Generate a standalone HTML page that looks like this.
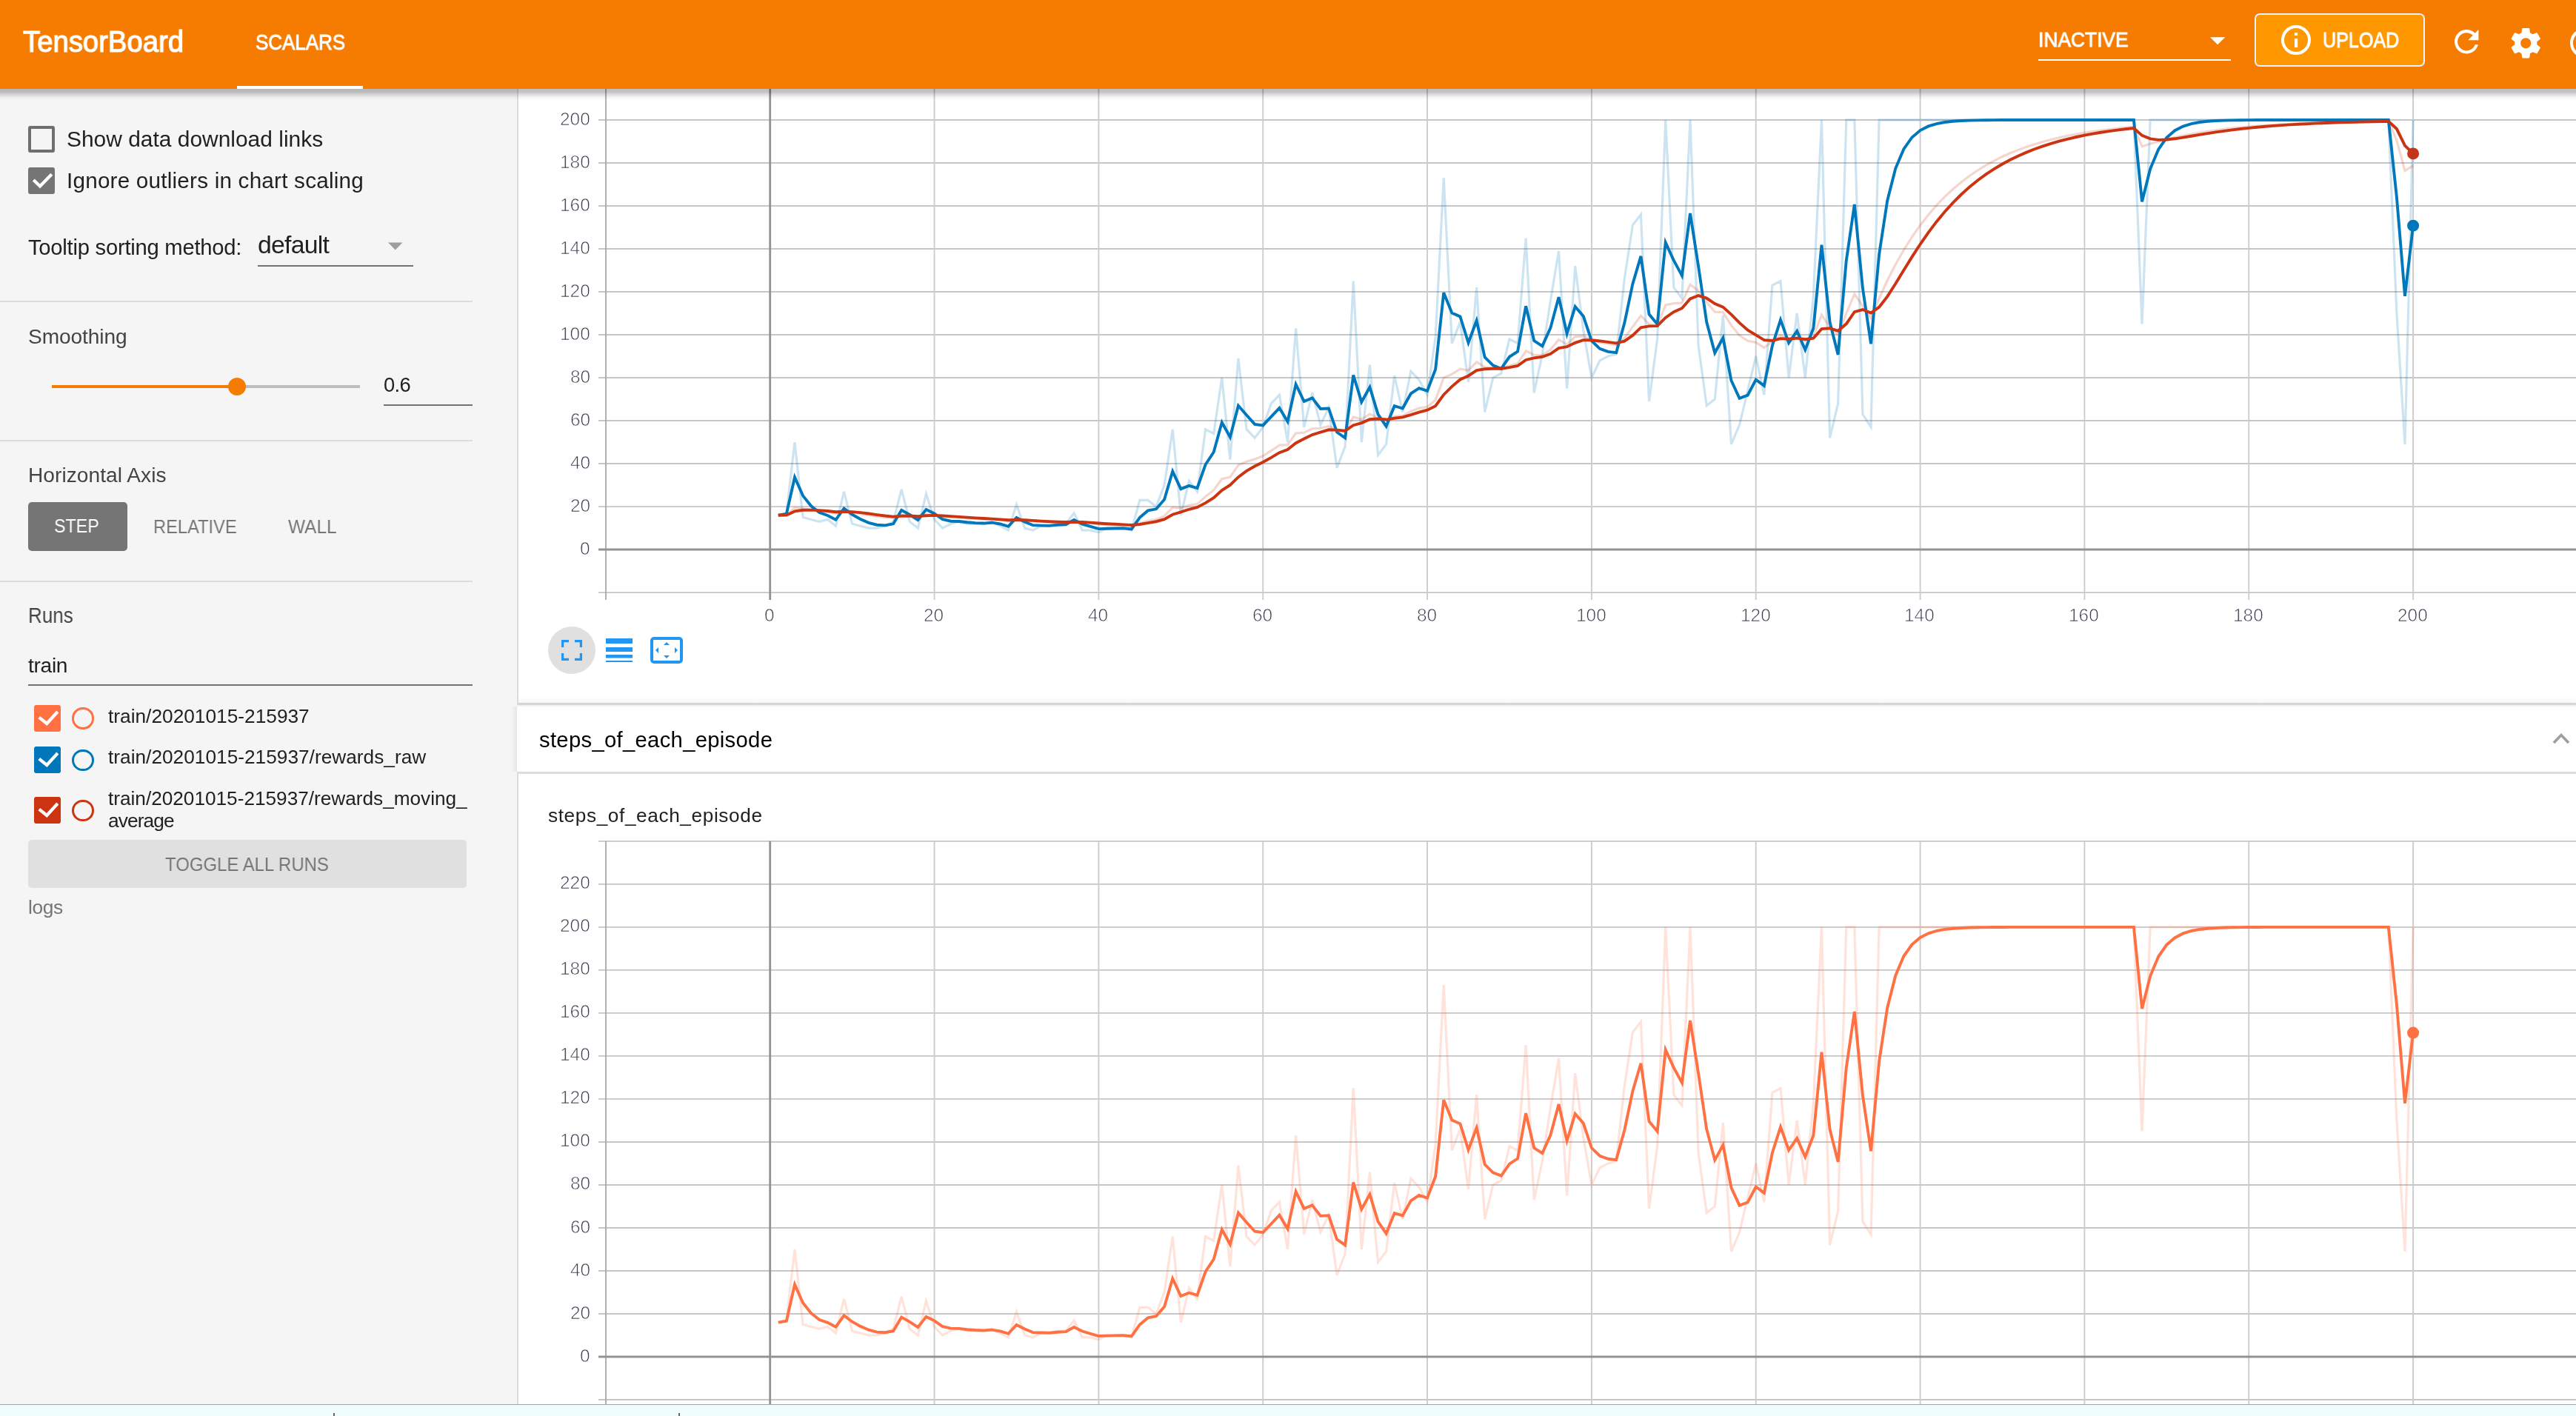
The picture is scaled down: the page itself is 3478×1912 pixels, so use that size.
<!DOCTYPE html><html><head><meta charset="utf-8"><style>
*{box-sizing:border-box;margin:0;padding:0}
html,body{width:3478px;height:1912px;overflow:hidden;background:#fff;font-family:"Liberation Sans",sans-serif}
.t{position:absolute;white-space:nowrap;will-change:transform}
.a{position:absolute}
</style></head><body>
<div class="a" style="left:0;top:0;width:698px;height:1897px;background:#f5f5f5"></div>
<div class="a" style="left:698px;top:0;width:2780px;height:1897px;background:#fff"></div>
<svg class="a" style="left:0;top:0" width="3478" height="1912" viewBox="0 0 3478 1912">
<defs><clipPath id="c1"><rect x="700" y="0" width="2778" height="950"/></clipPath><clipPath id="c2"><rect x="700" y="1044" width="2778" height="853"/></clipPath></defs>
<g clip-path="url(#c1)"><line x1="808" y1="800.11" x2="3478" y2="800.11" stroke="#c6c6c6" stroke-width="1.9"/>
<line x1="808" y1="684.09" x2="3478" y2="684.09" stroke="#c6c6c6" stroke-width="1.9"/>
<line x1="808" y1="626.07" x2="3478" y2="626.07" stroke="#c6c6c6" stroke-width="1.9"/>
<line x1="808" y1="568.06" x2="3478" y2="568.06" stroke="#c6c6c6" stroke-width="1.9"/>
<line x1="808" y1="510.04" x2="3478" y2="510.04" stroke="#c6c6c6" stroke-width="1.9"/>
<line x1="808" y1="452.03" x2="3478" y2="452.03" stroke="#c6c6c6" stroke-width="1.9"/>
<line x1="808" y1="394.02" x2="3478" y2="394.02" stroke="#c6c6c6" stroke-width="1.9"/>
<line x1="808" y1="336.00" x2="3478" y2="336.00" stroke="#c6c6c6" stroke-width="1.9"/>
<line x1="808" y1="277.99" x2="3478" y2="277.99" stroke="#c6c6c6" stroke-width="1.9"/>
<line x1="808" y1="219.97" x2="3478" y2="219.97" stroke="#c6c6c6" stroke-width="1.9"/>
<line x1="808" y1="161.96" x2="3478" y2="161.96" stroke="#c6c6c6" stroke-width="1.9"/>
<line x1="808" y1="103.95" x2="3478" y2="103.95" stroke="#c6c6c6" stroke-width="1.9"/>
<line x1="808" y1="45.93" x2="3478" y2="45.93" stroke="#c6c6c6" stroke-width="1.9"/>
<line x1="1261.54" y1="45.93" x2="1261.54" y2="810.11" stroke="#cccccc" stroke-width="1.9"/>
<line x1="1483.38" y1="45.93" x2="1483.38" y2="810.11" stroke="#cccccc" stroke-width="1.9"/>
<line x1="1705.22" y1="45.93" x2="1705.22" y2="810.11" stroke="#cccccc" stroke-width="1.9"/>
<line x1="1927.06" y1="45.93" x2="1927.06" y2="810.11" stroke="#cccccc" stroke-width="1.9"/>
<line x1="2148.90" y1="45.93" x2="2148.90" y2="810.11" stroke="#cccccc" stroke-width="1.9"/>
<line x1="2370.74" y1="45.93" x2="2370.74" y2="810.11" stroke="#cccccc" stroke-width="1.9"/>
<line x1="2592.58" y1="45.93" x2="2592.58" y2="810.11" stroke="#cccccc" stroke-width="1.9"/>
<line x1="2814.42" y1="45.93" x2="2814.42" y2="810.11" stroke="#cccccc" stroke-width="1.9"/>
<line x1="3036.26" y1="45.93" x2="3036.26" y2="810.11" stroke="#cccccc" stroke-width="1.9"/>
<line x1="3258.10" y1="45.93" x2="3258.10" y2="810.11" stroke="#cccccc" stroke-width="1.9"/>
<line x1="818" y1="45.93" x2="818" y2="810.11" stroke="#a8a8a8" stroke-width="1.8"/>
<line x1="808" y1="742.10" x2="3478" y2="742.10" stroke="#939393" stroke-width="3"/>
<line x1="1039.7" y1="45.93" x2="1039.7" y2="810.11" stroke="#939393" stroke-width="2.8"/>
<circle cx="3258.10" cy="207.43" r="8" fill="#cc3311"/><circle cx="3258.10" cy="304.67" r="8" fill="#0077bb"/>
<path d="M1050.79,695.69 L1061.88,692.79 L1072.98,597.07 L1084.07,698.59 L1095.16,701.49 L1106.25,704.39 L1117.34,701.49 L1128.44,710.19 L1139.53,663.78 L1150.62,707.29 L1161.71,710.19 L1172.80,713.09 L1183.90,713.09 L1194.99,710.19 L1206.08,704.39 L1217.17,660.88 L1228.26,704.39 L1239.36,713.09 L1250.45,666.68 L1261.54,701.49 L1272.63,713.09 L1283.72,707.29 L1294.82,704.39 L1305.91,707.29 L1317.00,707.29 L1328.09,707.29 L1339.18,704.39 L1350.28,710.19 L1361.37,715.99 L1372.46,681.19 L1383.55,713.09 L1394.64,715.99 L1405.74,710.19 L1416.83,710.19 L1427.92,707.29 L1439.01,707.29 L1450.10,692.79 L1461.20,715.99 L1472.29,715.99 L1483.38,718.89 L1494.47,713.09 L1505.56,713.09 L1516.66,713.09 L1527.75,715.99 L1538.84,675.38 L1549.93,675.38 L1561.02,684.09 L1572.12,655.08 L1583.21,579.66 L1594.30,695.69 L1605.39,649.28 L1616.48,663.78 L1627.58,579.66 L1638.67,585.46 L1649.76,510.04 L1660.85,620.27 L1671.94,483.94 L1683.04,579.66 L1694.13,591.26 L1705.22,576.76 L1716.31,544.85 L1727.40,533.25 L1738.50,597.07 L1749.59,443.33 L1760.68,576.76 L1771.77,530.35 L1782.86,573.86 L1793.96,550.65 L1805.05,631.87 L1816.14,602.87 L1827.23,379.51 L1838.32,597.07 L1849.42,492.64 L1860.51,614.47 L1871.60,599.97 L1882.69,507.14 L1893.78,556.46 L1904.88,501.34 L1915.97,512.94 L1927.06,533.25 L1938.15,454.93 L1949.24,240.28 L1960.34,463.63 L1971.43,434.63 L1982.52,515.85 L1993.61,388.21 L2004.70,556.46 L2015.80,510.04 L2026.89,504.24 L2037.98,457.83 L2049.07,463.63 L2060.16,321.50 L2071.26,530.35 L2082.35,478.14 L2093.44,405.62 L2104.53,338.90 L2115.62,524.55 L2126.72,359.21 L2137.81,446.23 L2148.90,510.04 L2159.99,486.84 L2171.08,481.04 L2182.18,478.14 L2193.27,376.61 L2204.36,304.09 L2215.45,289.59 L2226.54,541.95 L2237.64,457.83 L2248.73,161.96 L2259.82,388.21 L2270.91,402.72 L2282.00,161.96 L2293.10,466.53 L2304.19,547.75 L2315.28,539.05 L2326.37,425.92 L2337.46,599.97 L2348.56,573.86 L2359.65,527.45 L2370.74,481.04 L2381.83,533.25 L2392.92,385.31 L2404.02,379.51 L2415.11,510.04 L2426.20,423.02 L2437.29,510.04 L2448.38,399.82 L2459.48,161.96 L2470.57,591.26 L2481.66,544.85 L2492.75,161.96 L2503.84,161.96 L2514.94,559.36 L2526.03,576.76 L2537.12,161.96 L2548.21,161.96 L2559.30,161.96 L2570.40,161.96 L2581.49,161.96 L2592.58,161.96 L2603.67,161.96 L2614.76,161.96 L2625.86,161.96 L2636.95,161.96 L2648.04,161.96 L2659.13,161.96 L2670.22,161.96 L2681.32,161.96 L2692.41,161.96 L2703.50,161.96 L2714.59,161.96 L2725.68,161.96 L2736.78,161.96 L2747.87,161.96 L2758.96,161.96 L2770.05,161.96 L2781.14,161.96 L2792.24,161.96 L2803.33,161.96 L2814.42,161.96 L2825.51,161.96 L2836.60,161.96 L2847.70,161.96 L2858.79,161.96 L2869.88,161.96 L2880.97,161.96 L2892.06,437.53 L2903.16,161.96 L2914.25,161.96 L2925.34,161.96 L2936.43,161.96 L2947.52,161.96 L2958.62,161.96 L2969.71,161.96 L2980.80,161.96 L2991.89,161.96 L3002.98,161.96 L3014.08,161.96 L3025.17,161.96 L3036.26,161.96 L3047.35,161.96 L3058.44,161.96 L3069.54,161.96 L3080.63,161.96 L3091.72,161.96 L3102.81,161.96 L3113.90,161.96 L3125.00,161.96 L3136.09,161.96 L3147.18,161.96 L3158.27,161.96 L3169.36,161.96 L3180.46,161.96 L3191.55,161.96 L3202.64,161.96 L3213.73,161.96 L3224.82,161.96 L3235.92,423.02 L3247.01,599.97 L3258.10,161.96" fill="none" stroke="#0077bb" stroke-width="3.2" stroke-opacity="0.2" stroke-linejoin="miter"/>
<path d="M1050.79,695.69 L1061.88,695.40 L1072.98,685.57 L1084.07,686.87 L1095.16,688.33 L1106.25,689.94 L1117.34,691.09 L1128.44,693.00 L1139.53,690.08 L1150.62,691.80 L1161.71,693.64 L1172.80,695.59 L1183.90,697.34 L1194.99,698.62 L1206.08,699.20 L1217.17,695.37 L1228.26,696.27 L1239.36,697.95 L1250.45,694.82 L1261.54,695.49 L1272.63,697.25 L1283.72,698.26 L1294.82,698.87 L1305.91,699.71 L1317.00,700.47 L1328.09,701.15 L1339.18,701.48 L1350.28,702.35 L1361.37,703.71 L1372.46,701.46 L1383.55,702.62 L1394.64,703.96 L1405.74,704.58 L1416.83,705.14 L1427.92,705.36 L1439.01,705.55 L1450.10,704.28 L1461.20,705.45 L1472.29,706.50 L1483.38,707.74 L1494.47,708.28 L1505.56,708.76 L1516.66,709.19 L1527.75,709.87 L1538.84,706.42 L1549.93,703.32 L1561.02,701.40 L1572.12,696.76 L1583.21,685.05 L1594.30,686.12 L1605.39,682.43 L1616.48,680.57 L1627.58,670.48 L1638.67,661.98 L1649.76,646.78 L1660.85,644.13 L1671.94,628.11 L1683.04,623.27 L1694.13,620.07 L1705.22,615.74 L1716.31,608.65 L1727.40,601.11 L1738.50,600.70 L1749.59,584.97 L1760.68,584.15 L1771.77,578.77 L1782.86,578.28 L1793.96,575.51 L1805.05,581.15 L1816.14,583.32 L1827.23,562.94 L1838.32,566.35 L1849.42,558.98 L1860.51,564.53 L1871.60,568.07 L1882.69,561.98 L1893.78,561.43 L1904.88,555.42 L1915.97,551.17 L1927.06,549.38 L1938.15,539.93 L1949.24,509.97 L1960.34,505.34 L1971.43,498.26 L1982.52,500.02 L1993.61,488.84 L2004.70,495.60 L2015.80,497.05 L2026.89,497.77 L2037.98,493.77 L2049.07,490.76 L2060.16,473.83 L2071.26,479.48 L2082.35,479.35 L2093.44,471.98 L2104.53,458.67 L2115.62,465.26 L2126.72,454.65 L2137.81,453.81 L2148.90,459.43 L2159.99,462.17 L2171.08,464.06 L2182.18,465.47 L2193.27,456.58 L2204.36,441.33 L2215.45,426.16 L2226.54,437.74 L2237.64,439.75 L2248.73,411.97 L2259.82,409.59 L2270.91,408.91 L2282.00,384.21 L2293.10,392.44 L2304.19,407.97 L2315.28,421.08 L2326.37,421.57 L2337.46,439.41 L2348.56,452.85 L2359.65,460.31 L2370.74,462.38 L2381.83,469.47 L2392.92,461.05 L2404.02,452.90 L2415.11,458.61 L2426.20,455.06 L2437.29,460.55 L2448.38,454.48 L2459.48,425.23 L2470.57,441.83 L2481.66,452.13 L2492.75,423.12 L2503.84,397.00 L2514.94,413.24 L2526.03,429.59 L2537.12,402.83 L2548.21,378.74 L2559.30,357.06 L2570.40,337.55 L2581.49,319.99 L2592.58,304.19 L2603.67,289.97 L2614.76,277.17 L2625.86,265.64 L2636.95,255.28 L2648.04,245.94 L2659.13,237.55 L2670.22,229.99 L2681.32,223.18 L2692.41,217.06 L2703.50,211.55 L2714.59,206.59 L2725.68,202.13 L2736.78,198.11 L2747.87,194.50 L2758.96,191.24 L2770.05,188.32 L2781.14,185.68 L2792.24,183.31 L2803.33,181.17 L2814.42,179.25 L2825.51,177.52 L2836.60,175.97 L2847.70,174.57 L2858.79,173.31 L2869.88,172.17 L2880.97,171.15 L2892.06,197.79 L2903.16,194.20 L2914.25,190.98 L2925.34,188.08 L2936.43,185.47 L2947.52,183.12 L2958.62,181.00 L2969.71,179.10 L2980.80,177.38 L2991.89,175.84 L3002.98,174.45 L3014.08,173.20 L3025.17,172.08 L3036.26,171.07 L3047.35,170.16 L3058.44,169.34 L3069.54,168.60 L3080.63,167.93 L3091.72,167.34 L3102.81,166.80 L3113.90,166.32 L3125.00,165.88 L3136.09,165.49 L3147.18,165.14 L3158.27,164.82 L3169.36,164.53 L3180.46,164.27 L3191.55,164.04 L3202.64,163.84 L3213.73,163.65 L3224.82,163.48 L3235.92,189.43 L3247.01,230.49 L3258.10,223.63" fill="none" stroke="#cc3311" stroke-width="3.2" stroke-opacity="0.2" stroke-linejoin="miter"/>
<path d="M1050.79,695.69 L1061.88,693.88 L1072.98,644.48 L1084.07,669.35 L1095.16,683.29 L1106.25,692.14 L1117.34,695.99 L1128.44,701.77 L1139.53,686.42 L1150.62,694.82 L1161.71,700.99 L1172.80,705.84 L1183.90,708.75 L1194.99,709.33 L1206.08,707.35 L1217.17,688.76 L1228.26,695.01 L1239.36,702.24 L1250.45,688.02 L1261.54,693.41 L1272.63,701.28 L1283.72,703.69 L1294.82,703.97 L1305.91,705.30 L1317.00,706.10 L1328.09,706.57 L1339.18,705.70 L1350.28,707.50 L1361.37,710.90 L1372.46,699.01 L1383.55,704.64 L1394.64,709.18 L1405.74,709.59 L1416.83,709.83 L1427.92,708.81 L1439.01,708.21 L1450.10,702.04 L1461.20,707.62 L1472.29,710.97 L1483.38,714.14 L1494.47,713.72 L1505.56,713.47 L1516.66,713.32 L1527.75,714.39 L1538.84,698.79 L1549.93,689.43 L1561.02,687.29 L1572.12,674.41 L1583.21,636.51 L1594.30,660.18 L1605.39,655.82 L1616.48,659.00 L1627.58,627.27 L1638.67,610.54 L1649.76,570.34 L1660.85,590.31 L1671.94,547.76 L1683.04,560.52 L1694.13,572.82 L1705.22,574.40 L1716.31,562.58 L1727.40,550.85 L1738.50,569.33 L1749.59,518.93 L1760.68,542.06 L1771.77,537.38 L1782.86,551.97 L1793.96,551.44 L1805.05,583.62 L1816.14,591.32 L1827.23,506.59 L1838.32,542.78 L1849.42,522.73 L1860.51,559.42 L1871.60,575.64 L1882.69,548.24 L1893.78,551.53 L1904.88,531.45 L1915.97,524.05 L1927.06,527.73 L1938.15,498.61 L1949.24,395.28 L1960.34,422.62 L1971.43,427.42 L1982.52,462.79 L1993.61,432.96 L2004.70,482.36 L2015.80,493.43 L2026.89,497.76 L2037.98,481.79 L2049.07,474.53 L2060.16,413.31 L2071.26,460.13 L2082.35,467.33 L2093.44,442.65 L2104.53,401.15 L2115.62,450.51 L2126.72,413.99 L2137.81,426.88 L2148.90,460.15 L2159.99,470.82 L2171.08,474.91 L2182.18,476.20 L2193.27,436.36 L2204.36,383.46 L2215.45,345.91 L2226.54,424.33 L2237.64,437.73 L2248.73,327.42 L2259.82,351.74 L2270.91,372.13 L2282.00,288.06 L2293.10,359.45 L2304.19,434.77 L2315.28,476.48 L2326.37,456.26 L2337.46,513.74 L2348.56,537.79 L2359.65,533.65 L2370.74,512.61 L2381.83,520.86 L2392.92,466.64 L2404.02,431.79 L2415.11,463.09 L2426.20,447.06 L2437.29,472.26 L2448.38,443.28 L2459.48,330.75 L2470.57,434.96 L2481.66,478.92 L2492.75,352.13 L2503.84,276.06 L2514.94,389.38 L2526.03,464.33 L2537.12,343.38 L2548.21,270.81 L2559.30,227.27 L2570.40,201.15 L2581.49,185.47 L2592.58,176.07 L2603.67,170.42 L2614.76,167.04 L2625.86,165.01 L2636.95,163.79 L2648.04,163.06 L2659.13,162.62 L2670.22,162.35 L2681.32,162.20 L2692.41,162.10 L2703.50,162.05 L2714.59,162.01 L2725.68,161.99 L2736.78,161.98 L2747.87,161.97 L2758.96,161.97 L2770.05,161.96 L2781.14,161.96 L2792.24,161.96 L2803.33,161.96 L2814.42,161.96 L2825.51,161.96 L2836.60,161.96 L2847.70,161.96 L2858.79,161.96 L2869.88,161.96 L2880.97,161.96 L2892.06,272.19 L2903.16,228.10 L2914.25,201.64 L2925.34,185.77 L2936.43,176.25 L2947.52,170.53 L2958.62,167.10 L2969.71,165.05 L2980.80,163.81 L2991.89,163.07 L3002.98,162.63 L3014.08,162.36 L3025.17,162.20 L3036.26,162.10 L3047.35,162.05 L3058.44,162.01 L3069.54,161.99 L3080.63,161.98 L3091.72,161.97 L3102.81,161.97 L3113.90,161.96 L3125.00,161.96 L3136.09,161.96 L3147.18,161.96 L3158.27,161.96 L3169.36,161.96 L3180.46,161.96 L3191.55,161.96 L3202.64,161.96 L3213.73,161.96 L3224.82,161.96 L3235.92,266.39 L3247.01,399.82 L3258.10,304.67" fill="none" stroke="#0077bb" stroke-width="3.9" stroke-opacity="1" stroke-linejoin="miter"/>
<path d="M1050.79,695.69 L1061.88,695.51 L1072.98,690.43 L1084.07,688.80 L1095.16,688.59 L1106.25,689.16 L1117.34,689.95 L1128.44,691.19 L1139.53,690.74 L1150.62,691.17 L1161.71,692.16 L1172.80,693.53 L1183.90,695.06 L1194.99,696.48 L1206.08,697.57 L1217.17,696.69 L1228.26,696.52 L1239.36,697.09 L1250.45,696.19 L1261.54,695.91 L1272.63,696.45 L1283.72,697.17 L1294.82,697.85 L1305.91,698.59 L1317.00,699.34 L1328.09,700.07 L1339.18,700.63 L1350.28,701.32 L1361.37,702.27 L1372.46,701.95 L1383.55,702.22 L1394.64,702.91 L1405.74,703.58 L1416.83,704.21 L1427.92,704.67 L1439.01,705.02 L1450.10,704.72 L1461.20,705.01 L1472.29,705.61 L1483.38,706.46 L1494.47,707.19 L1505.56,707.82 L1516.66,708.37 L1527.75,708.97 L1538.84,707.95 L1549.93,706.10 L1561.02,704.22 L1572.12,701.24 L1583.21,694.76 L1594.30,691.30 L1605.39,687.76 L1616.48,684.88 L1627.58,679.12 L1638.67,672.26 L1649.76,662.07 L1660.85,654.89 L1671.94,644.18 L1683.04,635.82 L1694.13,629.52 L1705.22,624.00 L1716.31,617.86 L1727.40,611.16 L1738.50,606.98 L1749.59,598.17 L1760.68,592.56 L1771.77,587.04 L1782.86,583.54 L1793.96,580.33 L1805.05,580.66 L1816.14,581.72 L1827.23,574.21 L1838.32,571.07 L1849.42,566.23 L1860.51,565.55 L1871.60,566.56 L1882.69,564.73 L1893.78,563.41 L1904.88,560.21 L1915.97,556.60 L1927.06,553.71 L1938.15,548.20 L1949.24,532.91 L1960.34,521.88 L1971.43,512.43 L1982.52,507.47 L1993.61,500.02 L2004.70,498.25 L2015.80,497.77 L2026.89,497.77 L2037.98,496.17 L2049.07,494.01 L2060.16,485.94 L2071.26,483.36 L2082.35,481.75 L2093.44,477.84 L2104.53,470.17 L2115.62,468.21 L2126.72,462.79 L2137.81,459.19 L2148.90,459.29 L2159.99,460.44 L2171.08,461.89 L2182.18,463.32 L2193.27,460.63 L2204.36,452.91 L2215.45,442.21 L2226.54,440.42 L2237.64,440.15 L2248.73,428.88 L2259.82,421.16 L2270.91,416.26 L2282.00,403.44 L2293.10,399.04 L2304.19,402.62 L2315.28,410.00 L2326.37,414.63 L2337.46,424.54 L2348.56,435.86 L2359.65,445.64 L2370.74,452.34 L2381.83,459.19 L2392.92,459.94 L2404.02,457.12 L2415.11,457.72 L2426.20,456.65 L2437.29,458.21 L2448.38,456.72 L2459.48,444.12 L2470.57,443.21 L2481.66,446.78 L2492.75,437.31 L2503.84,421.19 L2514.94,418.01 L2526.03,422.64 L2537.12,414.71 L2548.21,400.32 L2559.30,383.02 L2570.40,364.83 L2581.49,346.90 L2592.58,329.81 L2603.67,313.87 L2614.76,299.19 L2625.86,285.77 L2636.95,273.57 L2648.04,262.52 L2659.13,252.53 L2670.22,243.51 L2681.32,235.38 L2692.41,228.05 L2703.50,221.45 L2714.59,215.51 L2725.68,210.16 L2736.78,205.34 L2747.87,201.00 L2758.96,197.10 L2770.05,193.59 L2781.14,190.42 L2792.24,187.58 L2803.33,185.02 L2814.42,182.71 L2825.51,180.64 L2836.60,178.77 L2847.70,177.09 L2858.79,175.57 L2869.88,174.21 L2880.97,172.99 L2892.06,182.91 L2903.16,187.43 L2914.25,188.85 L2925.34,188.54 L2936.43,187.31 L2947.52,185.63 L2958.62,183.78 L2969.71,181.91 L2980.80,180.10 L2991.89,178.39 L3002.98,176.82 L3014.08,175.37 L3025.17,174.05 L3036.26,172.86 L3047.35,171.78 L3058.44,170.80 L3069.54,169.92 L3080.63,169.13 L3091.72,168.41 L3102.81,167.77 L3113.90,167.19 L3125.00,166.66 L3136.09,166.19 L3147.18,165.77 L3158.27,165.39 L3169.36,165.05 L3180.46,164.74 L3191.55,164.46 L3202.64,164.21 L3213.73,163.99 L3224.82,163.78 L3235.92,174.04 L3247.01,196.62 L3258.10,207.43" fill="none" stroke="#cc3311" stroke-width="3.9" stroke-opacity="1" stroke-linejoin="miter"/></g>
<g clip-path="url(#c2)"><line x1="808" y1="1890.01" x2="3478" y2="1890.01" stroke="#c6c6c6" stroke-width="1.9"/>
<line x1="808" y1="1773.99" x2="3478" y2="1773.99" stroke="#c6c6c6" stroke-width="1.9"/>
<line x1="808" y1="1715.97" x2="3478" y2="1715.97" stroke="#c6c6c6" stroke-width="1.9"/>
<line x1="808" y1="1657.96" x2="3478" y2="1657.96" stroke="#c6c6c6" stroke-width="1.9"/>
<line x1="808" y1="1599.94" x2="3478" y2="1599.94" stroke="#c6c6c6" stroke-width="1.9"/>
<line x1="808" y1="1541.93" x2="3478" y2="1541.93" stroke="#c6c6c6" stroke-width="1.9"/>
<line x1="808" y1="1483.92" x2="3478" y2="1483.92" stroke="#c6c6c6" stroke-width="1.9"/>
<line x1="808" y1="1425.90" x2="3478" y2="1425.90" stroke="#c6c6c6" stroke-width="1.9"/>
<line x1="808" y1="1367.89" x2="3478" y2="1367.89" stroke="#c6c6c6" stroke-width="1.9"/>
<line x1="808" y1="1309.87" x2="3478" y2="1309.87" stroke="#c6c6c6" stroke-width="1.9"/>
<line x1="808" y1="1251.86" x2="3478" y2="1251.86" stroke="#c6c6c6" stroke-width="1.9"/>
<line x1="808" y1="1193.85" x2="3478" y2="1193.85" stroke="#c6c6c6" stroke-width="1.9"/>
<line x1="808" y1="1135.83" x2="3478" y2="1135.83" stroke="#c6c6c6" stroke-width="1.9"/>
<line x1="1261.54" y1="1135.83" x2="1261.54" y2="1900.01" stroke="#cccccc" stroke-width="1.9"/>
<line x1="1483.38" y1="1135.83" x2="1483.38" y2="1900.01" stroke="#cccccc" stroke-width="1.9"/>
<line x1="1705.22" y1="1135.83" x2="1705.22" y2="1900.01" stroke="#cccccc" stroke-width="1.9"/>
<line x1="1927.06" y1="1135.83" x2="1927.06" y2="1900.01" stroke="#cccccc" stroke-width="1.9"/>
<line x1="2148.90" y1="1135.83" x2="2148.90" y2="1900.01" stroke="#cccccc" stroke-width="1.9"/>
<line x1="2370.74" y1="1135.83" x2="2370.74" y2="1900.01" stroke="#cccccc" stroke-width="1.9"/>
<line x1="2592.58" y1="1135.83" x2="2592.58" y2="1900.01" stroke="#cccccc" stroke-width="1.9"/>
<line x1="2814.42" y1="1135.83" x2="2814.42" y2="1900.01" stroke="#cccccc" stroke-width="1.9"/>
<line x1="3036.26" y1="1135.83" x2="3036.26" y2="1900.01" stroke="#cccccc" stroke-width="1.9"/>
<line x1="3258.10" y1="1135.83" x2="3258.10" y2="1900.01" stroke="#cccccc" stroke-width="1.9"/>
<line x1="818" y1="1135.83" x2="818" y2="1900.01" stroke="#a8a8a8" stroke-width="1.8"/>
<line x1="808" y1="1832.00" x2="3478" y2="1832.00" stroke="#939393" stroke-width="3"/>
<line x1="1039.7" y1="1135.83" x2="1039.7" y2="1900.01" stroke="#939393" stroke-width="2.8"/>
<circle cx="3258.10" cy="1394.57" r="8" fill="#ff7043"/>
<path d="M1050.79,1785.59 L1061.88,1782.69 L1072.98,1686.96 L1084.07,1788.49 L1095.16,1791.39 L1106.25,1794.29 L1117.34,1791.39 L1128.44,1800.09 L1139.53,1753.68 L1150.62,1797.19 L1161.71,1800.09 L1172.80,1802.99 L1183.90,1802.99 L1194.99,1800.09 L1206.08,1794.29 L1217.17,1750.78 L1228.26,1794.29 L1239.36,1802.99 L1250.45,1756.58 L1261.54,1791.39 L1272.63,1802.99 L1283.72,1797.19 L1294.82,1794.29 L1305.91,1797.19 L1317.00,1797.19 L1328.09,1797.19 L1339.18,1794.29 L1350.28,1800.09 L1361.37,1805.89 L1372.46,1771.09 L1383.55,1802.99 L1394.64,1805.89 L1405.74,1800.09 L1416.83,1800.09 L1427.92,1797.19 L1439.01,1797.19 L1450.10,1782.69 L1461.20,1805.89 L1472.29,1805.89 L1483.38,1808.79 L1494.47,1802.99 L1505.56,1802.99 L1516.66,1802.99 L1527.75,1805.89 L1538.84,1765.28 L1549.93,1765.28 L1561.02,1773.99 L1572.12,1744.98 L1583.21,1669.56 L1594.30,1785.59 L1605.39,1739.18 L1616.48,1753.68 L1627.58,1669.56 L1638.67,1675.36 L1649.76,1599.94 L1660.85,1710.17 L1671.94,1573.84 L1683.04,1669.56 L1694.13,1681.16 L1705.22,1666.66 L1716.31,1634.75 L1727.40,1623.15 L1738.50,1686.96 L1749.59,1533.23 L1760.68,1666.66 L1771.77,1620.25 L1782.86,1663.76 L1793.96,1640.55 L1805.05,1721.77 L1816.14,1692.77 L1827.23,1469.41 L1838.32,1686.96 L1849.42,1582.54 L1860.51,1704.37 L1871.60,1689.87 L1882.69,1597.04 L1893.78,1646.36 L1904.88,1591.24 L1915.97,1602.84 L1927.06,1623.15 L1938.15,1544.83 L1949.24,1330.18 L1960.34,1553.53 L1971.43,1524.53 L1982.52,1605.75 L1993.61,1478.11 L2004.70,1646.36 L2015.80,1599.94 L2026.89,1594.14 L2037.98,1547.73 L2049.07,1553.53 L2060.16,1411.40 L2071.26,1620.25 L2082.35,1568.04 L2093.44,1495.52 L2104.53,1428.80 L2115.62,1614.45 L2126.72,1449.11 L2137.81,1536.13 L2148.90,1599.94 L2159.99,1576.74 L2171.08,1570.94 L2182.18,1568.04 L2193.27,1466.51 L2204.36,1393.99 L2215.45,1379.49 L2226.54,1631.85 L2237.64,1547.73 L2248.73,1251.86 L2259.82,1478.11 L2270.91,1492.62 L2282.00,1251.86 L2293.10,1556.43 L2304.19,1637.65 L2315.28,1628.95 L2326.37,1515.82 L2337.46,1689.87 L2348.56,1663.76 L2359.65,1617.35 L2370.74,1570.94 L2381.83,1623.15 L2392.92,1475.21 L2404.02,1469.41 L2415.11,1599.94 L2426.20,1512.92 L2437.29,1599.94 L2448.38,1489.72 L2459.48,1251.86 L2470.57,1681.16 L2481.66,1634.75 L2492.75,1251.86 L2503.84,1251.86 L2514.94,1649.26 L2526.03,1666.66 L2537.12,1251.86 L2548.21,1251.86 L2559.30,1251.86 L2570.40,1251.86 L2581.49,1251.86 L2592.58,1251.86 L2603.67,1251.86 L2614.76,1251.86 L2625.86,1251.86 L2636.95,1251.86 L2648.04,1251.86 L2659.13,1251.86 L2670.22,1251.86 L2681.32,1251.86 L2692.41,1251.86 L2703.50,1251.86 L2714.59,1251.86 L2725.68,1251.86 L2736.78,1251.86 L2747.87,1251.86 L2758.96,1251.86 L2770.05,1251.86 L2781.14,1251.86 L2792.24,1251.86 L2803.33,1251.86 L2814.42,1251.86 L2825.51,1251.86 L2836.60,1251.86 L2847.70,1251.86 L2858.79,1251.86 L2869.88,1251.86 L2880.97,1251.86 L2892.06,1527.43 L2903.16,1251.86 L2914.25,1251.86 L2925.34,1251.86 L2936.43,1251.86 L2947.52,1251.86 L2958.62,1251.86 L2969.71,1251.86 L2980.80,1251.86 L2991.89,1251.86 L3002.98,1251.86 L3014.08,1251.86 L3025.17,1251.86 L3036.26,1251.86 L3047.35,1251.86 L3058.44,1251.86 L3069.54,1251.86 L3080.63,1251.86 L3091.72,1251.86 L3102.81,1251.86 L3113.90,1251.86 L3125.00,1251.86 L3136.09,1251.86 L3147.18,1251.86 L3158.27,1251.86 L3169.36,1251.86 L3180.46,1251.86 L3191.55,1251.86 L3202.64,1251.86 L3213.73,1251.86 L3224.82,1251.86 L3235.92,1512.92 L3247.01,1689.87 L3258.10,1251.86" fill="none" stroke="#ff7043" stroke-width="3.2" stroke-opacity="0.2" stroke-linejoin="miter"/>
<path d="M1050.79,1785.59 L1061.88,1783.78 L1072.98,1734.38 L1084.07,1759.25 L1095.16,1773.19 L1106.25,1782.04 L1117.34,1785.89 L1128.44,1791.67 L1139.53,1776.32 L1150.62,1784.72 L1161.71,1790.89 L1172.80,1795.74 L1183.90,1798.65 L1194.99,1799.23 L1206.08,1797.25 L1217.17,1778.66 L1228.26,1784.91 L1239.36,1792.14 L1250.45,1777.92 L1261.54,1783.31 L1272.63,1791.18 L1283.72,1793.59 L1294.82,1793.87 L1305.91,1795.20 L1317.00,1796.00 L1328.09,1796.47 L1339.18,1795.60 L1350.28,1797.40 L1361.37,1800.80 L1372.46,1788.91 L1383.55,1794.54 L1394.64,1799.08 L1405.74,1799.49 L1416.83,1799.73 L1427.92,1798.71 L1439.01,1798.11 L1450.10,1791.94 L1461.20,1797.52 L1472.29,1800.87 L1483.38,1804.04 L1494.47,1803.62 L1505.56,1803.37 L1516.66,1803.22 L1527.75,1804.29 L1538.84,1788.69 L1549.93,1779.33 L1561.02,1777.19 L1572.12,1764.31 L1583.21,1726.41 L1594.30,1750.08 L1605.39,1745.72 L1616.48,1748.90 L1627.58,1717.17 L1638.67,1700.44 L1649.76,1660.24 L1660.85,1680.21 L1671.94,1637.66 L1683.04,1650.42 L1694.13,1662.72 L1705.22,1664.30 L1716.31,1652.48 L1727.40,1640.75 L1738.50,1659.23 L1749.59,1608.83 L1760.68,1631.96 L1771.77,1627.28 L1782.86,1641.87 L1793.96,1641.34 L1805.05,1673.52 L1816.14,1681.22 L1827.23,1596.49 L1838.32,1632.68 L1849.42,1612.63 L1860.51,1649.32 L1871.60,1665.54 L1882.69,1638.14 L1893.78,1641.43 L1904.88,1621.35 L1915.97,1613.95 L1927.06,1617.63 L1938.15,1588.51 L1949.24,1485.18 L1960.34,1512.52 L1971.43,1517.32 L1982.52,1552.69 L1993.61,1522.86 L2004.70,1572.26 L2015.80,1583.33 L2026.89,1587.66 L2037.98,1571.69 L2049.07,1564.43 L2060.16,1503.21 L2071.26,1550.03 L2082.35,1557.23 L2093.44,1532.55 L2104.53,1491.05 L2115.62,1540.41 L2126.72,1503.89 L2137.81,1516.78 L2148.90,1550.05 L2159.99,1560.72 L2171.08,1564.81 L2182.18,1566.10 L2193.27,1526.26 L2204.36,1473.36 L2215.45,1435.81 L2226.54,1514.23 L2237.64,1527.63 L2248.73,1417.32 L2259.82,1441.64 L2270.91,1462.03 L2282.00,1377.96 L2293.10,1449.35 L2304.19,1524.67 L2315.28,1566.38 L2326.37,1546.16 L2337.46,1603.64 L2348.56,1627.69 L2359.65,1623.55 L2370.74,1602.51 L2381.83,1610.76 L2392.92,1556.54 L2404.02,1521.69 L2415.11,1552.99 L2426.20,1536.96 L2437.29,1562.16 L2448.38,1533.18 L2459.48,1420.65 L2470.57,1524.86 L2481.66,1568.82 L2492.75,1442.03 L2503.84,1365.96 L2514.94,1479.28 L2526.03,1554.23 L2537.12,1433.28 L2548.21,1360.71 L2559.30,1317.17 L2570.40,1291.05 L2581.49,1275.37 L2592.58,1265.97 L2603.67,1260.32 L2614.76,1256.94 L2625.86,1254.91 L2636.95,1253.69 L2648.04,1252.96 L2659.13,1252.52 L2670.22,1252.25 L2681.32,1252.10 L2692.41,1252.00 L2703.50,1251.95 L2714.59,1251.91 L2725.68,1251.89 L2736.78,1251.88 L2747.87,1251.87 L2758.96,1251.87 L2770.05,1251.86 L2781.14,1251.86 L2792.24,1251.86 L2803.33,1251.86 L2814.42,1251.86 L2825.51,1251.86 L2836.60,1251.86 L2847.70,1251.86 L2858.79,1251.86 L2869.88,1251.86 L2880.97,1251.86 L2892.06,1362.09 L2903.16,1318.00 L2914.25,1291.54 L2925.34,1275.67 L2936.43,1266.15 L2947.52,1260.43 L2958.62,1257.00 L2969.71,1254.95 L2980.80,1253.71 L2991.89,1252.97 L3002.98,1252.53 L3014.08,1252.26 L3025.17,1252.10 L3036.26,1252.00 L3047.35,1251.95 L3058.44,1251.91 L3069.54,1251.89 L3080.63,1251.88 L3091.72,1251.87 L3102.81,1251.87 L3113.90,1251.86 L3125.00,1251.86 L3136.09,1251.86 L3147.18,1251.86 L3158.27,1251.86 L3169.36,1251.86 L3180.46,1251.86 L3191.55,1251.86 L3202.64,1251.86 L3213.73,1251.86 L3224.82,1251.86 L3235.92,1356.29 L3247.01,1489.72 L3258.10,1394.57" fill="none" stroke="#ff7043" stroke-width="3.9" stroke-opacity="1" stroke-linejoin="miter"/></g>
</svg>
<div class="t" style="left:783.13px;top:728.65px;font-size:24.40px;line-height:24.40px;color:#3a3c4d;-webkit-text-stroke:0.7px #fff;">0</div>
<div class="t" style="left:769.57px;top:670.63px;font-size:24.40px;line-height:24.40px;color:#3a3c4d;-webkit-text-stroke:0.7px #fff;">20</div>
<div class="t" style="left:769.57px;top:612.62px;font-size:24.40px;line-height:24.40px;color:#3a3c4d;-webkit-text-stroke:0.7px #fff;">40</div>
<div class="t" style="left:769.57px;top:554.60px;font-size:24.40px;line-height:24.40px;color:#3a3c4d;-webkit-text-stroke:0.7px #fff;">60</div>
<div class="t" style="left:769.57px;top:496.59px;font-size:24.40px;line-height:24.40px;color:#3a3c4d;-webkit-text-stroke:0.7px #fff;">80</div>
<div class="t" style="left:756.00px;top:438.58px;font-size:24.40px;line-height:24.40px;color:#3a3c4d;-webkit-text-stroke:0.7px #fff;">100</div>
<div class="t" style="left:756.00px;top:380.56px;font-size:24.40px;line-height:24.40px;color:#3a3c4d;-webkit-text-stroke:0.7px #fff;">120</div>
<div class="t" style="left:756.00px;top:322.55px;font-size:24.40px;line-height:24.40px;color:#3a3c4d;-webkit-text-stroke:0.7px #fff;">140</div>
<div class="t" style="left:756.00px;top:264.53px;font-size:24.40px;line-height:24.40px;color:#3a3c4d;-webkit-text-stroke:0.7px #fff;">160</div>
<div class="t" style="left:756.00px;top:206.52px;font-size:24.40px;line-height:24.40px;color:#3a3c4d;-webkit-text-stroke:0.7px #fff;">180</div>
<div class="t" style="left:756.00px;top:148.51px;font-size:24.40px;line-height:24.40px;color:#3a3c4d;-webkit-text-stroke:0.7px #fff;">200</div>
<div class="t" style="left:1032.12px;top:818.65px;font-size:24.40px;line-height:24.40px;color:#3a3c4d;-webkit-text-stroke:0.7px #fff;">0</div>
<div class="t" style="left:1247.17px;top:818.65px;font-size:24.40px;line-height:24.40px;color:#3a3c4d;-webkit-text-stroke:0.7px #fff;">20</div>
<div class="t" style="left:1469.01px;top:818.65px;font-size:24.40px;line-height:24.40px;color:#3a3c4d;-webkit-text-stroke:0.7px #fff;">40</div>
<div class="t" style="left:1690.85px;top:818.65px;font-size:24.40px;line-height:24.40px;color:#3a3c4d;-webkit-text-stroke:0.7px #fff;">60</div>
<div class="t" style="left:1912.69px;top:818.65px;font-size:24.40px;line-height:24.40px;color:#3a3c4d;-webkit-text-stroke:0.7px #fff;">80</div>
<div class="t" style="left:2127.75px;top:818.65px;font-size:24.40px;line-height:24.40px;color:#3a3c4d;-webkit-text-stroke:0.7px #fff;">100</div>
<div class="t" style="left:2349.59px;top:818.65px;font-size:24.40px;line-height:24.40px;color:#3a3c4d;-webkit-text-stroke:0.7px #fff;">120</div>
<div class="t" style="left:2571.43px;top:818.65px;font-size:24.40px;line-height:24.40px;color:#3a3c4d;-webkit-text-stroke:0.7px #fff;">140</div>
<div class="t" style="left:2793.27px;top:818.65px;font-size:24.40px;line-height:24.40px;color:#3a3c4d;-webkit-text-stroke:0.7px #fff;">160</div>
<div class="t" style="left:3015.11px;top:818.65px;font-size:24.40px;line-height:24.40px;color:#3a3c4d;-webkit-text-stroke:0.7px #fff;">180</div>
<div class="t" style="left:3236.95px;top:818.65px;font-size:24.40px;line-height:24.40px;color:#3a3c4d;-webkit-text-stroke:0.7px #fff;">200</div>
<div class="t" style="left:783.13px;top:1818.55px;font-size:24.40px;line-height:24.40px;color:#3a3c4d;-webkit-text-stroke:0.7px #fff;">0</div>
<div class="t" style="left:769.57px;top:1760.53px;font-size:24.40px;line-height:24.40px;color:#3a3c4d;-webkit-text-stroke:0.7px #fff;">20</div>
<div class="t" style="left:769.57px;top:1702.52px;font-size:24.40px;line-height:24.40px;color:#3a3c4d;-webkit-text-stroke:0.7px #fff;">40</div>
<div class="t" style="left:769.57px;top:1644.50px;font-size:24.40px;line-height:24.40px;color:#3a3c4d;-webkit-text-stroke:0.7px #fff;">60</div>
<div class="t" style="left:769.57px;top:1586.49px;font-size:24.40px;line-height:24.40px;color:#3a3c4d;-webkit-text-stroke:0.7px #fff;">80</div>
<div class="t" style="left:756.00px;top:1528.48px;font-size:24.40px;line-height:24.40px;color:#3a3c4d;-webkit-text-stroke:0.7px #fff;">100</div>
<div class="t" style="left:756.00px;top:1470.46px;font-size:24.40px;line-height:24.40px;color:#3a3c4d;-webkit-text-stroke:0.7px #fff;">120</div>
<div class="t" style="left:756.00px;top:1412.45px;font-size:24.40px;line-height:24.40px;color:#3a3c4d;-webkit-text-stroke:0.7px #fff;">140</div>
<div class="t" style="left:756.00px;top:1354.43px;font-size:24.40px;line-height:24.40px;color:#3a3c4d;-webkit-text-stroke:0.7px #fff;">160</div>
<div class="t" style="left:756.00px;top:1296.42px;font-size:24.40px;line-height:24.40px;color:#3a3c4d;-webkit-text-stroke:0.7px #fff;">180</div>
<div class="t" style="left:756.00px;top:1238.41px;font-size:24.40px;line-height:24.40px;color:#3a3c4d;-webkit-text-stroke:0.7px #fff;">200</div>
<div class="t" style="left:756.00px;top:1180.39px;font-size:24.40px;line-height:24.40px;color:#3a3c4d;-webkit-text-stroke:0.7px #fff;">220</div>
<div class="a" style="left:698px;top:0;width:2px;height:952px;background:#dcdcdc"></div>
<div class="a" style="left:698px;top:949px;width:2780px;height:3px;background:#d6d6d6;border-radius:0 0 0 3px"></div>
<div class="a" style="left:700px;top:940px;width:2778px;height:9px;background:linear-gradient(#fff,#f7f7f7)"></div>
<div class="a" style="left:698px;top:952px;width:2780px;height:2px;background:#f2f2f2"></div>
<div class="a" style="left:690px;top:954px;width:8px;height:88px;background:linear-gradient(90deg,#f5f5f5,#e6e6e6)"></div>
<div class="a" style="left:698px;top:954px;width:2780px;height:88px;background:#fefefe"></div>
<div class="a" style="left:698px;top:1042px;width:2780px;height:2.5px;background:#dddddd"></div>
<div class="t" style="left:727.90px;top:985.45px;font-size:29.24px;line-height:29.24px;letter-spacing:0.305px;color:#000;">steps_of_each_episode</div>
<svg class="a" style="left:3440px;top:980px" width="36" height="30" viewBox="0 0 36 30"><path d="M8 23 L18 12.5 L28 23" fill="none" stroke="#9e9e9e" stroke-width="3.6"/></svg>
<div class="a" style="left:698px;top:1044px;width:2px;height:853px;background:#dcdcdc"></div>
<div class="t" style="left:740.00px;top:1087.52px;font-size:26.21px;line-height:26.21px;letter-spacing:0.608px;color:#212121;">steps_of_each_episode</div>
<div class="a" style="left:740px;top:846px;width:64px;height:64px;border-radius:50%;background:#e0e0e0"></div>
<svg class="a" style="left:758px;top:864px" width="28" height="28" viewBox="0 0 28 28"><path d="M0 0h10v3.2H3.2V10H0z M18 0h10v10h-3.2V3.2H18z M0 18h3.2v6.8H10V28H0z M24.8 18H28v10H18v-3.2h6.8z" fill="#2196f3"/></svg>
<svg class="a" style="left:818px;top:862px" width="36" height="32" viewBox="0 0 36 32"><rect x="0" y="0" width="36" height="7" fill="#2196f3"/><rect x="0" y="12" width="36" height="6" fill="#2196f3"/><rect x="0" y="22" width="36" height="4.5" fill="#2196f3"/><rect x="0" y="30" width="36" height="2" fill="#2196f3"/></svg>
<svg class="a" style="left:878px;top:860px" width="44" height="36" viewBox="0 0 44 36"><rect x="2" y="2" width="40" height="32" rx="3" fill="none" stroke="#2196f3" stroke-width="4"/><path d="M22 7l4 4h-8z M22 29l4-4h-8z M7 18l4-4v8z M37 18l-4-4v8z" fill="#2196f3"/></svg>
<div class="a" style="left:38px;top:170px;width:36px;height:36px;border:4px solid #6f6f6f;border-radius:3px"></div>
<div class="a" style="left:38px;top:226px;width:36px;height:36px;background:#757575;border-radius:3px"></div>
<svg class="a" style="left:38px;top:226px" width="36" height="36" viewBox="0 0 36 36"><path d="M7.3 17 L16 25.5 L31.8 9.2" fill="none" stroke="#fff" stroke-width="4.3"/></svg>
<div class="t" style="left:90.00px;top:172.66px;font-size:29.93px;line-height:29.93px;letter-spacing:0.005px;color:#212121;">Show data download links</div>
<div class="t" style="left:90.00px;top:228.90px;font-size:29.66px;line-height:29.66px;letter-spacing:0.217px;color:#212121;">Ignore outliers in chart scaling</div>
<div class="t" style="left:38.10px;top:319.95px;font-size:29.24px;line-height:29.24px;letter-spacing:-0.259px;color:#212121;">Tooltip sorting method:</div>
<div class="t" style="left:347.80px;top:313.89px;font-size:33.79px;line-height:33.79px;letter-spacing:-0.741px;color:#212121;">default</div>
<div class="a" style="left:348px;top:358px;width:210px;height:2px;background:#737373"></div>
<svg class="a" style="left:524px;top:327px" width="20" height="11" viewBox="0 0 20 11"><path d="M0 0.5h19.5L9.75 10.5z" fill="#9e9e9e"/></svg>
<div class="a" style="left:0;top:406px;width:638px;height:2px;background:#dcdcdc"></div>
<div class="t" style="left:38.10px;top:440.98px;font-size:28.14px;line-height:28.14px;letter-spacing:-0.103px;color:#444444;">Smoothing</div>
<div class="a" style="left:70px;top:520px;width:250px;height:4px;background:#f57c00"></div>
<div class="a" style="left:320px;top:520px;width:166px;height:4px;background:#bdbdbd"></div>
<div class="a" style="left:308px;top:509.8px;width:24.4px;height:24.4px;border-radius:50%;background:#f57c00"></div>
<div class="t" style="left:518.20px;top:506.34px;font-size:27.36px;line-height:27.36px;letter-spacing:-0.668px;color:#212121;">0.6</div>
<div class="a" style="left:518px;top:546px;width:120px;height:2px;background:#737373"></div>
<div class="a" style="left:0;top:594px;width:638px;height:2px;background:#dcdcdc"></div>
<div class="t" style="left:38.10px;top:628.38px;font-size:28.14px;line-height:28.14px;letter-spacing:0.035px;color:#444444;">Horizontal Axis</div>
<div class="a" style="left:38px;top:678px;width:134px;height:65.5px;background:#757575;border-radius:5px"></div>
<div class="t" style="left:73.40px;top:698.05px;font-size:25.93px;line-height:25.93px;color:#ffffff;transform:scaleX(0.8977);transform-origin:0 0;">STEP</div>
<div class="t" style="left:206.50px;top:697.73px;font-size:26.31px;line-height:26.31px;color:#757575;transform:scaleX(0.8998);transform-origin:0 0;">RELATIVE</div>
<div class="t" style="left:388.60px;top:697.73px;font-size:26.31px;line-height:26.31px;color:#757575;transform:scaleX(0.9283);transform-origin:0 0;">WALL</div>
<div class="a" style="left:0;top:784px;width:638px;height:2px;background:#dcdcdc"></div>
<div class="t" style="left:38.10px;top:817.44px;font-size:28.78px;line-height:28.78px;color:#444444;transform:scaleX(0.9052);transform-origin:0 0;">Runs</div>
<div class="t" style="left:38.10px;top:884.58px;font-size:28.14px;line-height:28.14px;letter-spacing:-0.307px;color:#212121;">train</div>
<div class="a" style="left:38px;top:923.5px;width:600px;height:2px;background:#737373"></div>
<div class="a" style="left:46.2px;top:952px;width:35.6px;height:35.6px;background:#ff7043;border-radius:3px"></div>
<svg class="a" style="left:46.2px;top:952px" width="36" height="36" viewBox="0 0 36 36"><path d="M6.8 16.6 L17.2 25 L31.8 9" fill="none" stroke="#fff" stroke-width="4.2"/></svg>
<div class="a" style="left:97px;top:955.3px;width:29.6px;height:29.6px;border:3px solid #ff7043;border-radius:50%"></div>
<div class="a" style="left:46.2px;top:1008.3px;width:35.6px;height:35.6px;background:#0077bb;border-radius:3px"></div>
<svg class="a" style="left:46.2px;top:1008.3px" width="36" height="36" viewBox="0 0 36 36"><path d="M6.8 16.6 L17.2 25 L31.8 9" fill="none" stroke="#fff" stroke-width="4.2"/></svg>
<div class="a" style="left:97px;top:1011.5999999999999px;width:29.6px;height:29.6px;border:3px solid #0077bb;border-radius:50%"></div>
<div class="a" style="left:46.2px;top:1076.2px;width:35.6px;height:35.6px;background:#cc3311;border-radius:3px"></div>
<svg class="a" style="left:46.2px;top:1076.2px" width="36" height="36" viewBox="0 0 36 36"><path d="M6.8 16.6 L17.2 25 L31.8 9" fill="none" stroke="#fff" stroke-width="4.2"/></svg>
<div class="a" style="left:97px;top:1079.5px;width:29.6px;height:29.6px;border:3px solid #cc3311;border-radius:50%"></div>
<div class="t" style="left:145.90px;top:954.01px;font-size:26.28px;line-height:26.28px;letter-spacing:0.003px;color:#212121;">train/20201015-215937</div>
<div class="t" style="left:145.90px;top:1009.22px;font-size:26.21px;line-height:26.21px;letter-spacing:0.028px;color:#212121;">train/20201015-215937/rewards_raw</div>
<div class="t" style="left:145.90px;top:1064.82px;font-size:26.21px;line-height:26.21px;letter-spacing:-0.011px;color:#212121;">train/20201015-215937/rewards_moving_</div>
<div class="t" style="left:145.90px;top:1094.76px;font-size:26.28px;line-height:26.28px;letter-spacing:-0.877px;color:#212121;">average</div>
<div class="a" style="left:38px;top:1134px;width:592px;height:65.3px;background:#e0e0e0;border-radius:5px"></div>
<div class="t" style="left:222.80px;top:1153.93px;font-size:26.07px;line-height:26.07px;color:#757575;transform:scaleX(0.9187);transform-origin:0 0;">TOGGLE ALL RUNS</div>
<div class="t" style="left:38.10px;top:1211.60px;font-size:26.34px;line-height:26.34px;letter-spacing:-0.372px;color:#757575;">logs</div>
<div class="a" style="left:0;top:120px;width:3478px;height:16px;background:linear-gradient(rgba(0,0,0,0.25),rgba(0,0,0,0.24) 4px,rgba(0,0,0,0.12) 8px,rgba(0,0,0,0.03) 12px,rgba(0,0,0,0) 15px)"></div>
<div class="a" style="left:0;top:0;width:3478px;height:120px;background:#f57c00"></div>
<div class="t" style="left:30.70px;top:36.39px;font-size:40.41px;line-height:40.41px;color:#fff;transform:scaleX(0.9470);transform-origin:0 0;-webkit-text-stroke:1.2px currentColor;">TensorBoard</div>
<div class="t" style="left:344.60px;top:41.54px;font-size:29.37px;line-height:29.37px;color:#fff;transform:scaleX(0.8839);transform-origin:0 0;-webkit-text-stroke:0.9px currentColor;">SCALARS</div>
<div class="a" style="left:320px;top:116px;width:170px;height:4px;background:#fff"></div>
<div class="t" style="left:2752.10px;top:40.29px;font-size:27.65px;line-height:27.65px;color:#fff;transform:scaleX(0.9543);transform-origin:0 0;-webkit-text-stroke:0.9px currentColor;">INACTIVE</div>
<svg class="a" style="left:2984px;top:49.5px" width="21" height="11" viewBox="0 0 21 11"><path d="M0 0.3h20.3L10.15 10.3z" fill="#fff"/></svg>
<div class="a" style="left:2752px;top:80px;width:260px;height:2.4px;background:#fff"></div>
<div class="a" style="left:3044.2px;top:18.2px;width:229.5px;height:71.5px;background:#ff9800;border:2px solid #e6f2fa;border-radius:7px"></div>
<svg class="a" style="left:3076px;top:30px" width="48" height="48" viewBox="0 0 48 48"><circle cx="24" cy="24" r="18" fill="none" stroke="#fff" stroke-width="4"/><rect x="22" y="14.2" width="4.2" height="3.8" fill="#fff"/><rect x="22" y="22.1" width="4.2" height="11.9" fill="#fff"/></svg>
<div class="t" style="left:3136.40px;top:39.74px;font-size:28.65px;line-height:28.65px;color:#fff;transform:scaleX(0.8767);transform-origin:0 0;-webkit-text-stroke:0.9px currentColor;">UPLOAD</div>
<svg class="a" style="left:3305.6px;top:31.6px" width="48.5" height="48.5" viewBox="0 0 24 24"><path fill="#fff" d="M17.65 6.35C16.2 4.9 14.21 4 12 4c-4.42 0-7.99 3.58-7.99 8s3.57 8 7.99 8c3.73 0 6.84-2.55 7.73-6h-2.08c-.82 2.33-3.04 4-5.65 4-3.31 0-6-2.690-6-6s2.69-6 6-6c1.66 0 3.14.69 4.22 1.78L13 11h7V4l-2.350 2.35z"/></svg>
<svg class="a" style="left:3385.6px;top:33.7px" width="48.5" height="48.5" viewBox="0 0 24 24"><path fill="#fff" d="M19.43 12.98c.04-.32.07-.64.07-.98s-.03-.66-.07-.98l2.11-1.65c.19-.15.24-.42.12-.64l-2-3.46c-.12-.22-.39-.3-.61-.22l-2.49 1c-.52-.4-1.08-.73-1.69-.98l-.38-2.65C14.46 2.18 14.25 2 14 2h-4c-.25 0-.46.18-.49.42l-.38 2.65c-.61.25-1.170.59-1.69.98l-2.49-1c-.23-.09-.49 0-.61.22l-2 3.46c-.13.22-.07.49.12.64l2.11 1.65c-.04.32-.07.65-.07.98s.03.66.07.98l-2.11 1.65c-.19.15-.24.42-.12.64l2 3.46c.12.22.39.3.61.22l2.49-1c.52.4 1.08.73 1.69.98l.38 2.65c.03.24.24.42.49.42h4c.25 0 .46-.18.49-.42l.38-2.65c.61-.25 1.17-.59 1.69-.98l2.49 1c.23.09.49 0 .61-.22l2-3.46c.12-.22.07-.49-.12-.64l-2.11-1.65zM12 15.5c-1.93 0-3.5-1.57-3.5-3.5s1.57-3.5 3.5-3.5 3.5 1.570 3.5 3.5-1.57 3.5-3.5 3.5z"/></svg>
<svg class="a" style="left:3460px;top:30px" width="18" height="56" viewBox="0 0 18 56"><circle cx="30" cy="28" r="18" fill="none" stroke="#fff" stroke-width="4"/></svg>
<div class="a" style="left:450px;top:1908px;width:1.5px;height:4px;background:#666;z-index:2"></div>
<div class="a" style="left:916px;top:1908px;width:1.5px;height:4px;background:#666;z-index:2"></div>
<div class="a" style="left:0;top:1896px;width:3478px;height:16px;background:#effdfd;border-top:1.5px solid #9aa5a5"></div>
</body></html>
